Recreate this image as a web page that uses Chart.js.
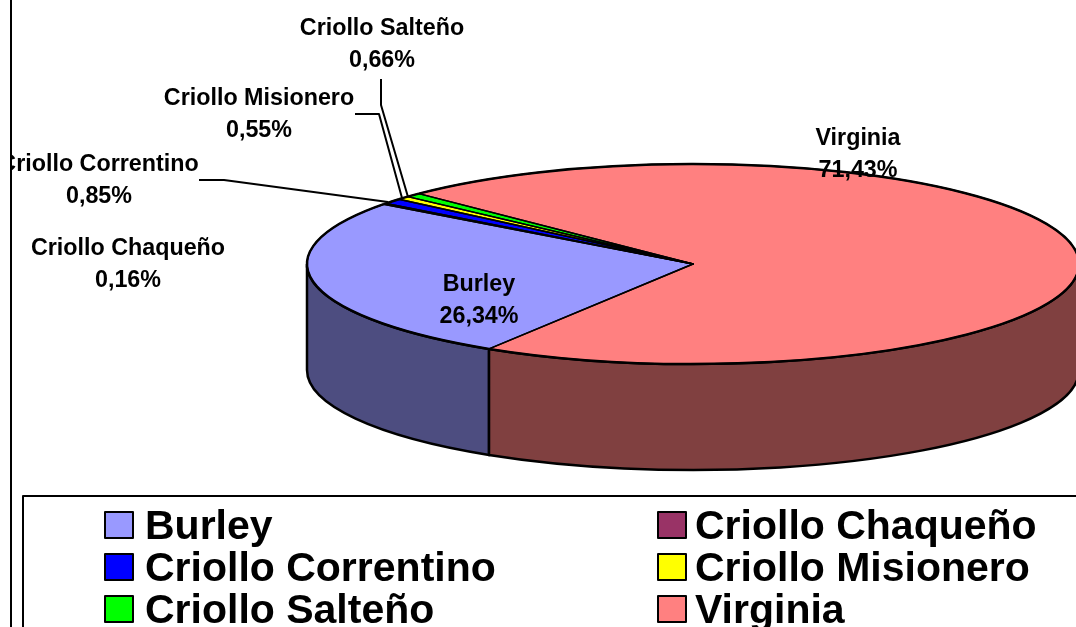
<!DOCTYPE html>
<html>
<head>
<meta charset="utf-8">
<title>Tabaco</title>
<style>
  html, body { margin: 0; padding: 0; background: #fff; }
  canvas { display: block; }
</style>
<script src="https://cdn.jsdelivr.net/npm/chart.js@4/dist/chart.umd.min.js"></script>
</head>
<body>
<canvas id="pie" width="1076" height="627"></canvas>
<script>
const categories = ['Burley', 'Criollo Chaqueño', 'Criollo Correntino', 'Criollo Misionero', 'Criollo Salteño', 'Virginia'];
const shares = [26.34, 0.16, 0.85, 0.55, 0.66, 71.43];
const sliceColors = ['#9999ff', '#993366', '#0000ff', '#ffff00', '#00ff00', '#ff8080'];
const wallColors = ['#4d4d80', '#4d1a33', '#000080', '#808000', '#008000', '#804040'];

// where the flattened pie sits on the page
const pieX = 693, pieY = 264, pieRx = 386, pieRy = 100, pieDepth = 106;

// label centre x, first line y
const labelSpots = [[479, 285], [128, 249], [99, 165], [259, 99], [382, 29], [858, 139]];
const leaderLines = [
  [[199, 180], [224, 180], [388, 202]],
  [[355, 114], [379, 114], [402, 198]],
  [[381, 79], [381, 105], [408, 197]]
];
const legendColumns = [104, 657];
const legendRows = [525, 567, 609];
const legendTextGap = [41, 38];

function flatten(ctx, arc) {
  const r = arc.outerRadius;
  ctx.translate(pieX, pieY);
  ctx.scale(pieRx / r, pieRy / r);
  ctx.translate(-arc.x, -arc.y);
}

function wallPath(ctx, a, b) {
  ctx.beginPath();
  ctx.ellipse(pieX, pieY, pieRx, pieRy, 0, a, b);
  ctx.ellipse(pieX, pieY + pieDepth, pieRx, pieRy, 0, b, a, true);
  ctx.closePath();
}

const pie3d = {
  id: 'pie3d',
  beforeDatasetsDraw(chart) {
    const ctx = chart.ctx;
    const arcs = chart.getDatasetMeta(0).data;
    ctx.save();
    ctx.lineWidth = 2.5;
    ctx.strokeStyle = '#000';
    // only the part of each slice facing the viewer gets a wall
    arcs.forEach((arc, i) => {
      for (let k = 0; k < 3; k++) {
        const a = Math.max(arc.startAngle, k * 2 * Math.PI);
        const b = Math.min(arc.endAngle, k * 2 * Math.PI + Math.PI);
        if (b <= a) continue;
        wallPath(ctx, a, b);
        ctx.fillStyle = wallColors[i];
        ctx.fill();
        ctx.stroke();
      }
    });
    ctx.restore();
    ctx.save();
    flatten(ctx, arcs[0]);
  },
  afterDatasetsDraw(chart) {
    const ctx = chart.ctx;
    ctx.restore();
    const arcs = chart.getDatasetMeta(0).data;
    ctx.save();
    ctx.strokeStyle = '#000';
    ctx.lineJoin = 'round';
    arcs.forEach(arc => {
      ctx.lineWidth = 1.5;
      ctx.beginPath();
      ctx.moveTo(pieX, pieY);
      ctx.ellipse(pieX, pieY, pieRx, pieRy, 0, arc.startAngle, arc.endAngle);
      ctx.closePath();
      ctx.stroke();
      ctx.lineWidth = 2.5;
      ctx.beginPath();
      ctx.ellipse(pieX, pieY, pieRx, pieRy, 0, arc.startAngle, arc.endAngle);
      ctx.stroke();
    });

    ctx.lineWidth = 2;
    leaderLines.forEach(pts => {
      ctx.beginPath();
      pts.forEach((p, i) => i ? ctx.lineTo(p[0], p[1]) : ctx.moveTo(p[0], p[1]));
      ctx.stroke();
    });

    // page frame and legend box
    ctx.beginPath();
    ctx.moveTo(11, 0);
    ctx.lineTo(11, 627);
    ctx.stroke();
    ctx.beginPath();
    ctx.moveTo(23, 627);
    ctx.lineTo(23, 496);
    ctx.lineTo(1076, 496);
    ctx.stroke();

    // data labels, clipped by the frame on the left
    ctx.beginPath();
    ctx.rect(12, 0, 1064, 627);
    ctx.clip();
    ctx.fillStyle = '#000';
    ctx.font = 'bold 23.3px "Liberation Sans"';
    ctx.textAlign = 'center';
    ctx.textBaseline = 'middle';
    categories.forEach((name, i) => {
      const spot = labelSpots[i];
      ctx.fillText(name, spot[0], spot[1]);
      ctx.fillText(shares[i].toFixed(2).replace('.', ',') + '%', spot[0], spot[1] + 32);
    });

    // legend, filled column by column across the rows
    ctx.font = 'bold 41px "Liberation Sans"';
    ctx.textAlign = 'left';
    categories.forEach((name, i) => {
      const x = legendColumns[i % 2];
      const y = legendRows[Math.floor(i / 2)];
      ctx.fillStyle = sliceColors[i];
      ctx.fillRect(x + 1, y - 13, 28, 26);
      ctx.lineWidth = 2;
      ctx.strokeRect(x + 1, y - 13, 28, 26);
      ctx.fillStyle = '#000';
      ctx.fillText(name, x + legendTextGap[i % 2], y + 3);
    });
    ctx.restore();
  }
};

new Chart(document.getElementById('pie').getContext('2d'), {
  type: 'pie',
  data: {
    labels: categories,
    datasets: [{
      data: shares,
      backgroundColor: sliceColors,
      borderWidth: 0,
      clip: false
    }]
  },
  options: {
    responsive: false,
    animation: false,
    rotation: 211.9,
    plugins: {
      legend: { display: false },
      tooltip: { enabled: false }
    }
  },
  plugins: [pie3d]
});
</script>
</body>
</html>
